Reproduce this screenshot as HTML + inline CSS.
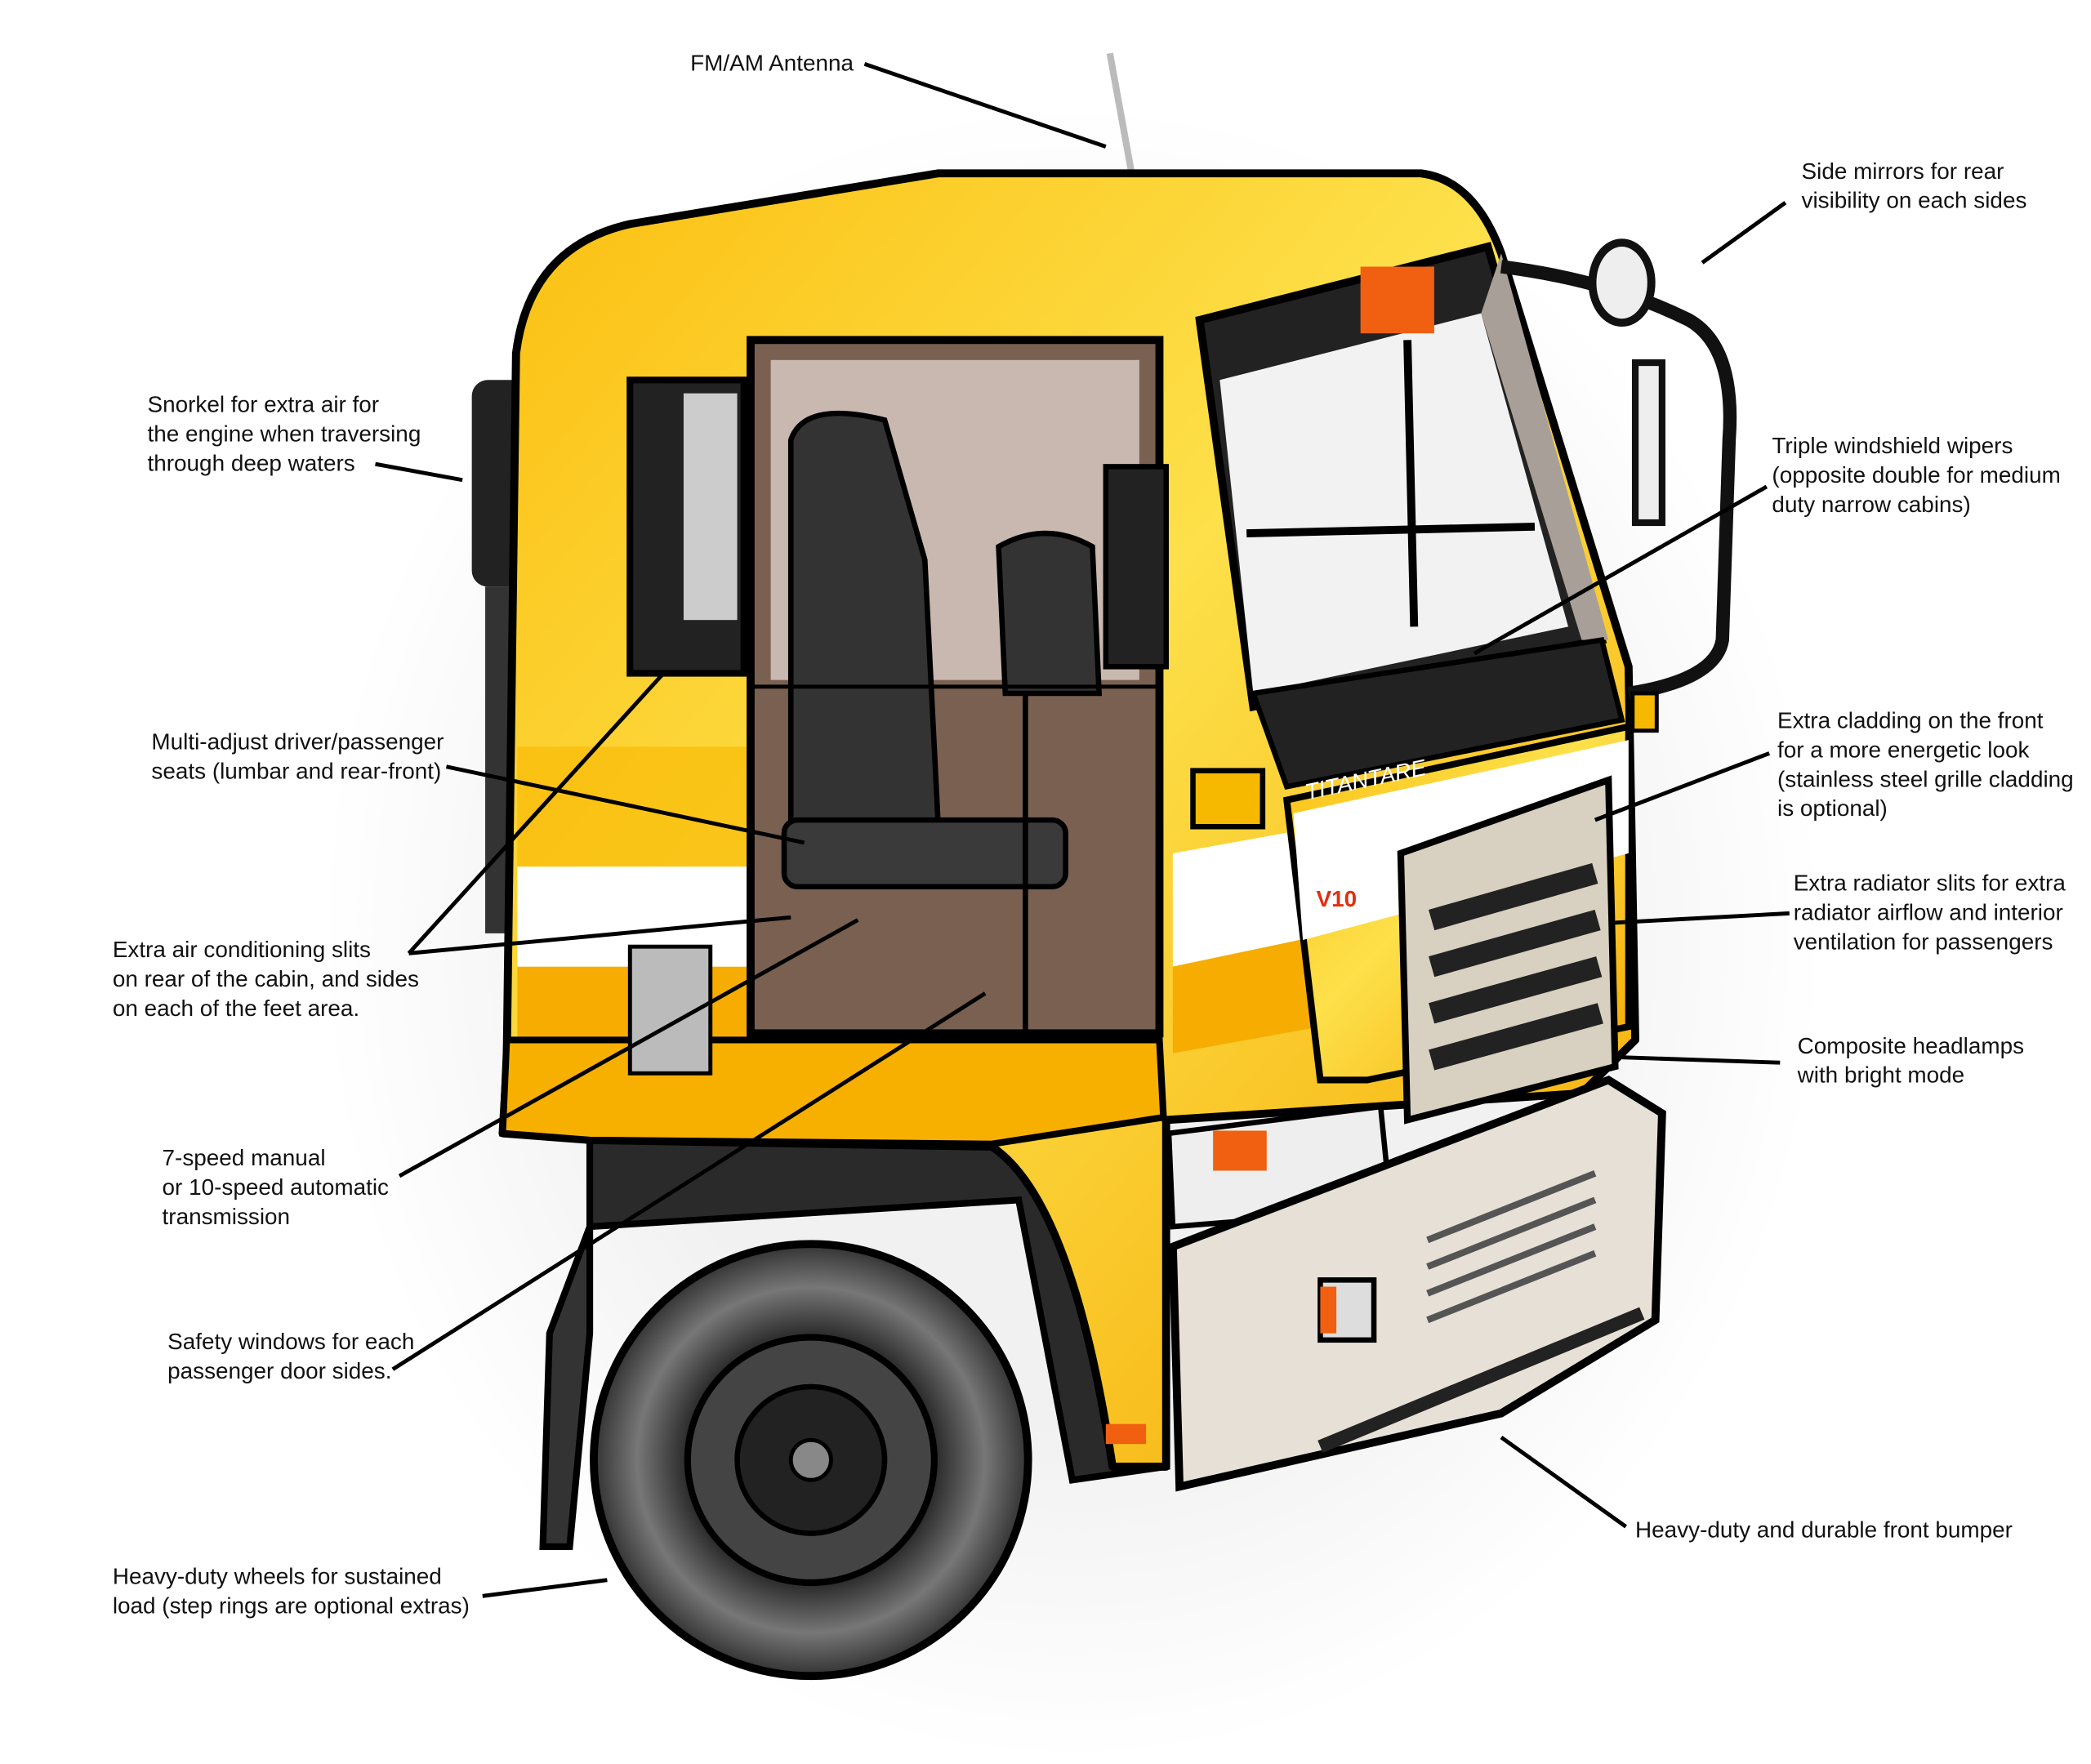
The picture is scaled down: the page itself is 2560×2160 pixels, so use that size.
<!DOCTYPE html>
<html><head><meta charset="utf-8"><style>
html,body{margin:0;padding:0;background:#fff;}
svg{display:block;}
text{font-family:"Liberation Sans",sans-serif;font-size:17px;fill:#111;}
</style></head><body>
<svg width="2560" height="2160" viewBox="0 0 1560 1323" preserveAspectRatio="none" xmlns="http://www.w3.org/2000/svg">
<defs>
<radialGradient id="glow" cx="0.5" cy="0.5" r="0.5">
<stop offset="0.6" stop-color="#e8e8e8"/><stop offset="1" stop-color="#fff"/></radialGradient>
<linearGradient id="yel" x1="0" y1="0" x2="1" y2="1">
<stop offset="0" stop-color="#fbbf10"/><stop offset="0.45" stop-color="#fde04a"/><stop offset="1" stop-color="#f5a800"/></linearGradient>
<radialGradient id="tire" cx="0.5" cy="0.5" r="0.5">
<stop offset="0.55" stop-color="#222"/><stop offset="0.8" stop-color="#777"/><stop offset="1" stop-color="#333"/></radialGradient>
</defs>
<rect width="1560" height="1323" fill="#fff"/>
<ellipse cx="800" cy="700" rx="560" ry="620" fill="url(#glow)" opacity="0.6"/>
<line x1="828" y1="40" x2="875" y2="300" stroke="#bbb" stroke-width="5"/>
<rect x="352" y="285" width="45" height="155" rx="12" fill="#222"/>
<rect x="362" y="440" width="22" height="260" fill="#333"/>
<path d="M440,850 L800,850 L870,1100 L800,1110 L760,900 L440,920 Z" fill="#2a2a2a" stroke="#000" stroke-width="5"/>
<path d="M440,920 L410,1000 L405,1160 L425,1160 L440,1000 Z" fill="#333" stroke="#000" stroke-width="5"/>
<circle cx="605" cy="1095" r="162" fill="url(#tire)" stroke="#000" stroke-width="6"/>
<circle cx="605" cy="1095" r="92" fill="#444" stroke="#000" stroke-width="5"/>
<circle cx="605" cy="1095" r="55" fill="#222" stroke="#000" stroke-width="4"/>
<circle cx="605" cy="1095" r="15" fill="#888" stroke="#000" stroke-width="3"/>
<path d="M378,800 L385,265 Q395,185 470,168 L700,130 L1060,130 Q1100,135 1120,190 L1215,500 L1220,780 L1180,820 L870,840 L870,1100 L830,1100 Q800,900 740,860 L440,855 L375,850 Z" fill="url(#yel)" stroke="#000" stroke-width="6" stroke-linejoin="round"/>
<rect x="386" y="725" width="174" height="55" fill="#f6ac00"/>
<rect x="386" y="560" width="174" height="90" fill="#f8b800" opacity="0.6"/>
<rect x="386" y="650" width="174" height="75" fill="#fff"/>
<path d="M378,780 L865,780 L868,838 L740,858 L440,855 L375,850 Z" fill="#f7b000" stroke="#000" stroke-width="5"/>
<polygon points="875,640 1040,610 1040,690 875,725" fill="#fff"/>
<polygon points="875,725 1040,690 1040,760 875,790" fill="#f6ac00"/>
<polygon points="960,600 1215,545 1215,770 1020,810 985,810" fill="url(#yel)" stroke="#000" stroke-width="5"/>
<polygon points="965,610 1215,555 1215,640 972,705" fill="#fff"/>
<text x="982" y="680" font-size="26" font-weight="bold" style="fill:#e03010">V10</text>
<rect x="560" y="255" width="305" height="520" fill="#7a6050" stroke="#000" stroke-width="6"/>
<rect x="575" y="270" width="275" height="240" fill="#c8b8b0"/>
<path d="M590,330 Q600,300 660,315 L690,420 L700,620 L590,620 Z" fill="#333" stroke="#000" stroke-width="4"/>
<rect x="585" y="615" width="210" height="50" rx="10" fill="#3a3a3a" stroke="#000" stroke-width="4"/>
<path d="M745,410 Q780,390 815,410 L820,520 L750,520 Z" fill="#333" stroke="#000" stroke-width="4"/>
<line x1="765" y1="520" x2="765" y2="775" stroke="#000" stroke-width="4"/>
<line x1="560" y1="515" x2="865" y2="515" stroke="#000" stroke-width="3"/>
<rect x="470" y="285" width="85" height="220" fill="#222" stroke="#000" stroke-width="5"/>
<rect x="510" y="295" width="40" height="170" fill="#ccc"/>
<rect x="825" y="350" width="45" height="150" fill="#222" stroke="#000" stroke-width="4"/>
<rect x="470" y="710" width="60" height="95" fill="#bbb" stroke="#000" stroke-width="3"/>
<polygon points="895,240 1110,185 1195,480 935,530" fill="#222" stroke="#000" stroke-width="6"/>
<polygon points="910,285 1105,235 1170,470 935,520" fill="#f2f2f2"/>
<line x1="1050" y1="255" x2="1055" y2="470" stroke="#000" stroke-width="6"/>
<line x1="930" y1="400" x2="1145" y2="395" stroke="#000" stroke-width="6"/>
<rect x="1015" y="200" width="55" height="50" fill="#f06010"/>
<polygon points="1105,235 1120,190 1200,480 1180,480" fill="#a8a098"/>
<polygon points="935,520 1195,480 1210,540 960,590" fill="#222" stroke="#000" stroke-width="4"/>
<text x="975" y="600" font-size="20" font-style="italic" style="fill:#fff" transform="rotate(-12 975 600)">TITANTARE</text>
<path d="M1120,200 Q1200,210 1260,240 Q1295,260 1290,330 L1285,480 Q1280,510 1215,520" fill="none" stroke="#111" stroke-width="10"/>
<ellipse cx="1210" cy="212" rx="22" ry="30" fill="#eee" stroke="#111" stroke-width="6"/>
<rect x="1220" y="272" width="20" height="120" fill="#eee" stroke="#111" stroke-width="5"/>
<rect x="1218" y="520" width="18" height="28" fill="#f7b800" stroke="#000" stroke-width="3"/>
<rect x="890" y="578" width="52" height="42" fill="#f7b800" stroke="#000" stroke-width="4"/>
<polygon points="1045,640 1200,585 1205,800 1050,840" fill="#d8d0c0" stroke="#000" stroke-width="5"/>
<g stroke="#222" stroke-width="16" fill="none">
<line x1="1068" y1="690" x2="1190" y2="655"/><line x1="1068" y1="725" x2="1192" y2="690"/>
<line x1="1068" y1="760" x2="1193" y2="725"/><line x1="1068" y1="795" x2="1194" y2="760"/></g>
<polygon points="872,850 1030,830 1035,880 1000,910 875,920" fill="#eee" stroke="#000" stroke-width="4"/>
<rect x="905" y="848" width="40" height="30" fill="#f06010"/>
<polygon points="875,935 1200,810 1240,835 1235,990 1120,1060 880,1115" fill="#e6e0d6" stroke="#000" stroke-width="6"/>
<g stroke="#555" stroke-width="5"><line x1="1065" y1="930" x2="1190" y2="880"/><line x1="1065" y1="950" x2="1190" y2="900"/><line x1="1065" y1="970" x2="1190" y2="920"/><line x1="1065" y1="990" x2="1190" y2="940"/></g>
<rect x="985" y="960" width="40" height="45" fill="#ddd" stroke="#000" stroke-width="4"/>
<rect x="985" y="965" width="12" height="35" fill="#f06010"/>
<rect x="825" y="1068" width="30" height="15" fill="#f06010"/>
<line x1="985" y1="1085" x2="1225" y2="985" stroke="#222" stroke-width="10"/>
<g stroke="#000" stroke-width="3" fill="none">
<line x1="645" y1="48" x2="825" y2="110"/>
<line x1="1332" y1="152" x2="1270" y2="197"/>
<line x1="280" y1="348" x2="345" y2="360"/>
<line x1="1318" y1="365" x2="1100" y2="490"/>
<line x1="333" y1="575" x2="600" y2="632"/>
<line x1="1320" y1="565" x2="1190" y2="615"/>
<line x1="1335" y1="685" x2="1205" y2="692"/>
<line x1="305" y1="715" x2="495" y2="505"/>
<line x1="305" y1="715" x2="590" y2="688"/>
<line x1="1328" y1="797" x2="1210" y2="793"/>
<line x1="298" y1="882" x2="640" y2="690"/>
<line x1="293" y1="1027" x2="735" y2="745"/>
<line x1="1213" y1="1145" x2="1120" y2="1078"/>
<line x1="360" y1="1197" x2="453" y2="1185"/>
</g>
<text x="515" y="53">FM/AM Antenna</text>
<text x="1344" y="134">Side mirrors for rear</text><text x="1344" y="156">visibility on each sides</text>
<text x="110" y="309">Snorkel for extra air for</text><text x="110" y="331">the engine when traversing</text><text x="110" y="353">through deep waters</text>
<text x="1322" y="340">Triple windshield wipers</text><text x="1322" y="362">(opposite double for medium</text><text x="1322" y="384">duty narrow cabins)</text>
<text x="113" y="562">Multi-adjust driver/passenger</text><text x="113" y="584">seats (lumbar and rear-front)</text>
<text x="1326" y="546">Extra cladding on the front</text><text x="1326" y="568">for a more energetic look</text><text x="1326" y="590">(stainless steel grille cladding</text><text x="1326" y="612">is optional)</text>
<text x="1338" y="668">Extra radiator slits for extra</text><text x="1338" y="690">radiator airflow and interior</text><text x="1338" y="712">ventilation for passengers</text>
<text x="84" y="718">Extra air conditioning slits</text><text x="84" y="740">on rear of the cabin, and sides</text><text x="84" y="762">on each of the feet area.</text>
<text x="1341" y="790">Composite headlamps</text><text x="1341" y="812">with bright mode</text>
<text x="121" y="874">7-speed manual</text><text x="121" y="896">or 10-speed automatic</text><text x="121" y="918">transmission</text>
<text x="125" y="1012">Safety windows for each</text><text x="125" y="1034">passenger door sides.</text>
<text x="1220" y="1153">Heavy-duty and durable front bumper</text>
<text x="84" y="1188">Heavy-duty wheels for sustained</text><text x="84" y="1210">load (step rings are optional extras)</text>
</svg>
</body></html>
